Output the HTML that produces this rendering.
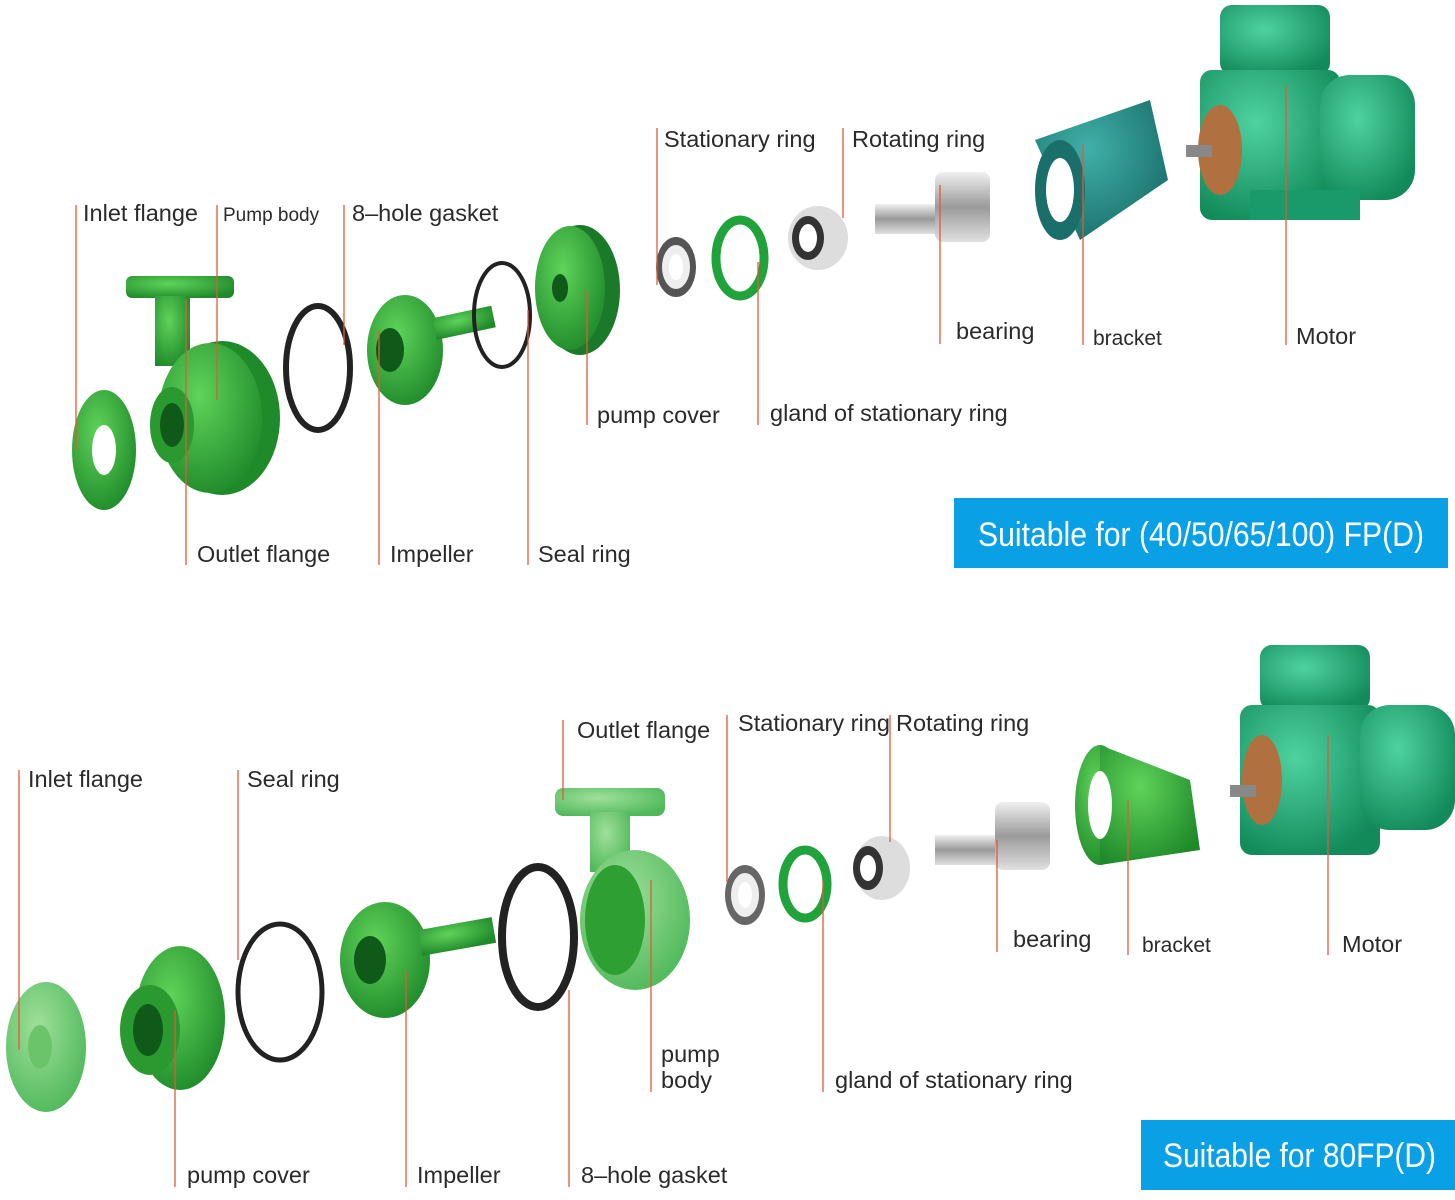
<!DOCTYPE html>
<html><head><meta charset="utf-8"><style>
html,body{margin:0;padding:0;background:#fff;}
svg{display:block}
text{font-family:"Liberation Sans",sans-serif;fill:#2a2a2a;font-size:23.5px}
.l{stroke:#e05a3a;stroke-width:1.3}
.bt{fill:#fff;font-size:34px;font-family:"Liberation Sans",sans-serif}
</style></head><body>
<svg width="1455" height="1200" viewBox="0 0 1455 1200">
<defs>
<radialGradient id="g" cx="40%" cy="35%" r="70%"><stop offset="0" stop-color="#5fd35a"/><stop offset="1" stop-color="#1f8a2a"/></radialGradient>
<radialGradient id="gp" cx="40%" cy="35%" r="70%"><stop offset="0" stop-color="#9fe09a"/><stop offset="1" stop-color="#4fb85a"/></radialGradient>
<radialGradient id="gm" cx="40%" cy="35%" r="70%"><stop offset="0" stop-color="#4fd2a0"/><stop offset="1" stop-color="#128a5a"/></radialGradient>
<radialGradient id="gb" cx="40%" cy="35%" r="70%"><stop offset="0" stop-color="#40b0a8"/><stop offset="1" stop-color="#1a6f6a"/></radialGradient>
<linearGradient id="st" x1="0" y1="0" x2="0" y2="1"><stop offset="0" stop-color="#f0f0f0"/><stop offset=".5" stop-color="#9a9a9a"/><stop offset="1" stop-color="#e0e0e0"/></linearGradient>
</defs>

<!-- TOP parts -->
<ellipse cx="104" cy="450" rx="32" ry="60" fill="url(#g)"/><ellipse cx="104" cy="450" rx="12" ry="25" fill="#fff"/>
<rect x="126" y="276" width="108" height="22" rx="6" fill="url(#g)"/>
<rect x="155" y="296" width="35" height="70" fill="url(#g)"/>
<ellipse cx="222" cy="418" rx="58" ry="77" fill="#1f8a2a"/><ellipse cx="210" cy="418" rx="52" ry="75" fill="url(#g)"/>
<ellipse cx="172" cy="425" rx="22" ry="38" fill="#2a9a30"/><ellipse cx="172" cy="425" rx="12" ry="22" fill="#0f5a18"/>
<ellipse cx="318" cy="368" rx="32" ry="62" fill="none" stroke="#222" stroke-width="6"/>
<ellipse cx="405" cy="350" rx="38" ry="55" fill="url(#g)"/><ellipse cx="390" cy="350" rx="14" ry="22" fill="#0f5a18"/>
<rect x="435" y="318" width="60" height="22" fill="url(#g)" transform="rotate(-12 435 330)"/>
<ellipse cx="502" cy="315" rx="28" ry="52" fill="none" stroke="#222" stroke-width="4"/>
<ellipse cx="580" cy="290" rx="40" ry="65" fill="#1a7a2a"/><ellipse cx="570" cy="288" rx="35" ry="62" fill="url(#g)"/><ellipse cx="560" cy="288" rx="8" ry="14" fill="#0f5a18"/>
<ellipse cx="676" cy="267" rx="20" ry="30" fill="#555"/><ellipse cx="676" cy="267" rx="14" ry="22" fill="#eee"/><ellipse cx="676" cy="267" rx="7" ry="13" fill="#fff"/>
<ellipse cx="740" cy="258" rx="24" ry="38" fill="none" stroke="#1fa33a" stroke-width="9"/>
<ellipse cx="818" cy="238" rx="30" ry="32" fill="#ddd"/><ellipse cx="808" cy="238" rx="16" ry="22" fill="#333"/><ellipse cx="808" cy="238" rx="9" ry="14" fill="#fff"/>
<rect x="875" y="204" width="70" height="30" fill="url(#st)"/><rect x="935" y="172" width="55" height="70" rx="8" fill="url(#st)"/>
<path d="M1035 140 L1150 100 L1168 180 L1080 240 Z" fill="url(#gb)"/><ellipse cx="1060" cy="190" rx="25" ry="50" fill="#1a6f6a"/><ellipse cx="1060" cy="190" rx="14" ry="32" fill="#fff"/>
<rect x="1220" y="5" width="110" height="70" rx="12" fill="url(#gm)"/>
<rect x="1200" y="70" width="140" height="150" rx="12" fill="url(#gm)"/>
<rect x="1320" y="75" width="95" height="125" rx="30" fill="url(#gm)"/>
<ellipse cx="1220" cy="150" rx="22" ry="45" fill="#b07040"/>
<rect x="1186" y="145" width="26" height="12" fill="#888"/>
<rect x="1250" y="190" width="110" height="30" fill="#1a9a6a"/>

<!-- TOP labels -->
<line class="l" x1="76" y1="205" x2="76" y2="450"/><text x="83" y="221">Inlet flange</text>
<line class="l" x1="217" y1="205" x2="217" y2="400"/><text x="223" y="221" style="font-size:19px">Pump body</text>
<line class="l" x1="344" y1="205" x2="344" y2="345"/><text x="352" y="221">8–hole gasket</text>
<line class="l" x1="657" y1="128" x2="657" y2="285"/><text x="664" y="147">Stationary ring</text>
<line class="l" x1="843" y1="128" x2="843" y2="218"/><text x="852" y="147">Rotating ring</text>
<line class="l" x1="940" y1="185" x2="940" y2="344"/><text x="956" y="339">bearing</text>
<line class="l" x1="1083" y1="145" x2="1083" y2="345"/><text x="1093" y="345" style="font-size:21px">bracket</text>
<line class="l" x1="1286" y1="85" x2="1286" y2="345"/><text x="1296" y="344">Motor</text>
<line class="l" x1="587" y1="290" x2="587" y2="425"/><text x="597" y="423">pump cover</text>
<line class="l" x1="758" y1="262" x2="758" y2="425"/><text x="770" y="421">gland of stationary ring</text>
<line class="l" x1="186" y1="300" x2="186" y2="565"/><text x="197" y="562">Outlet flange</text>
<line class="l" x1="379" y1="330" x2="379" y2="565"/><text x="390" y="562">Impeller</text>
<line class="l" x1="528" y1="310" x2="528" y2="565"/><text x="538" y="562">Seal ring</text>

<rect x="954" y="498" width="494" height="70" fill="#0aa0e6"/>
<text class="bt" x="978" y="546" textLength="446" lengthAdjust="spacingAndGlyphs">Suitable for (40/50/65/100) FP(D)</text>

<!-- BOTTOM parts -->
<ellipse cx="46" cy="1047" rx="40" ry="65" fill="url(#gp)"/><ellipse cx="40" cy="1047" rx="12" ry="22" fill="#6cc46a"/>
<ellipse cx="180" cy="1018" rx="45" ry="72" fill="url(#g)"/><ellipse cx="150" cy="1030" rx="30" ry="45" fill="#2a9a30"/><ellipse cx="148" cy="1030" rx="15" ry="26" fill="#0f5a18"/>
<ellipse cx="280" cy="992" rx="42" ry="68" fill="none" stroke="#222" stroke-width="5"/>
<ellipse cx="385" cy="960" rx="45" ry="58" fill="url(#g)"/><ellipse cx="370" cy="960" rx="16" ry="24" fill="#0f5a18"/>
<rect x="420" y="930" width="75" height="26" fill="url(#g)" transform="rotate(-10 420 943)"/>
<ellipse cx="538" cy="937" rx="36" ry="70" fill="none" stroke="#222" stroke-width="8"/>
<rect x="555" y="788" width="110" height="28" rx="8" fill="url(#gp)"/>
<rect x="590" y="812" width="40" height="60" fill="url(#gp)"/>
<ellipse cx="635" cy="920" rx="55" ry="70" fill="url(#gp)"/><ellipse cx="615" cy="920" rx="30" ry="55" fill="#2ea033"/>
<ellipse cx="745" cy="895" rx="20" ry="30" fill="#666"/><ellipse cx="745" cy="895" rx="14" ry="22" fill="#eee"/><ellipse cx="745" cy="895" rx="7" ry="13" fill="#fff"/>
<ellipse cx="805" cy="884" rx="22" ry="34" fill="none" stroke="#1fa33a" stroke-width="9"/>
<ellipse cx="882" cy="868" rx="28" ry="32" fill="#ddd"/><ellipse cx="868" cy="868" rx="15" ry="22" fill="#333"/><ellipse cx="868" cy="868" rx="8" ry="13" fill="#fff"/>
<rect x="935" y="835" width="70" height="30" fill="url(#st)"/><rect x="995" y="802" width="55" height="68" rx="8" fill="url(#st)"/>
<ellipse cx="1100" cy="805" rx="25" ry="60" fill="url(#g)"/><path d="M1100 745 L1190 780 L1200 850 L1100 865 Z" fill="url(#g)"/><ellipse cx="1100" cy="805" rx="12" ry="34" fill="#fff"/>
<rect x="1260" y="645" width="110" height="65" rx="12" fill="url(#gm)"/>
<rect x="1240" y="705" width="140" height="150" rx="12" fill="url(#gm)"/>
<rect x="1360" y="705" width="95" height="125" rx="30" fill="url(#gm)"/>
<ellipse cx="1262" cy="780" rx="20" ry="45" fill="#b07040"/>
<rect x="1230" y="785" width="26" height="12" fill="#888"/>

<!-- BOTTOM labels -->
<line class="l" x1="19" y1="770" x2="19" y2="1050"/><text x="28" y="787">Inlet flange</text>
<line class="l" x1="238" y1="770" x2="238" y2="960"/><text x="247" y="787">Seal ring</text>
<line class="l" x1="563" y1="720" x2="563" y2="800"/><text x="577" y="738">Outlet flange</text>
<line class="l" x1="727" y1="715" x2="727" y2="882"/><text x="738" y="731" textLength="152" lengthAdjust="spacingAndGlyphs">Stationary ring</text>
<line class="l" x1="890" y1="715" x2="890" y2="842"/><text x="896" y="731">Rotating ring</text>
<line class="l" x1="997" y1="840" x2="997" y2="952"/><text x="1013" y="947">bearing</text>
<line class="l" x1="1128" y1="800" x2="1128" y2="955"/><text x="1142" y="952" style="font-size:21px">bracket</text>
<line class="l" x1="1328" y1="735" x2="1328" y2="955"/><text x="1342" y="952">Motor</text>
<line class="l" x1="651" y1="880" x2="651" y2="1092"/><text x="661" y="1062">pump</text><text x="661" y="1088">body</text>
<line class="l" x1="823" y1="880" x2="823" y2="1092"/><text x="835" y="1088">gland of stationary ring</text>
<line class="l" x1="175" y1="1010" x2="175" y2="1187"/><text x="187" y="1183">pump cover</text>
<line class="l" x1="406" y1="970" x2="406" y2="1187"/><text x="417" y="1183">Impeller</text>
<line class="l" x1="569" y1="990" x2="569" y2="1187"/><text x="581" y="1183">8–hole gasket</text>

<rect x="1141" y="1120" width="314" height="70" fill="#0aa0e6"/>
<text class="bt" x="1163" y="1167" textLength="273" lengthAdjust="spacingAndGlyphs">Suitable for 80FP(D)</text>
</svg>
</body></html>
